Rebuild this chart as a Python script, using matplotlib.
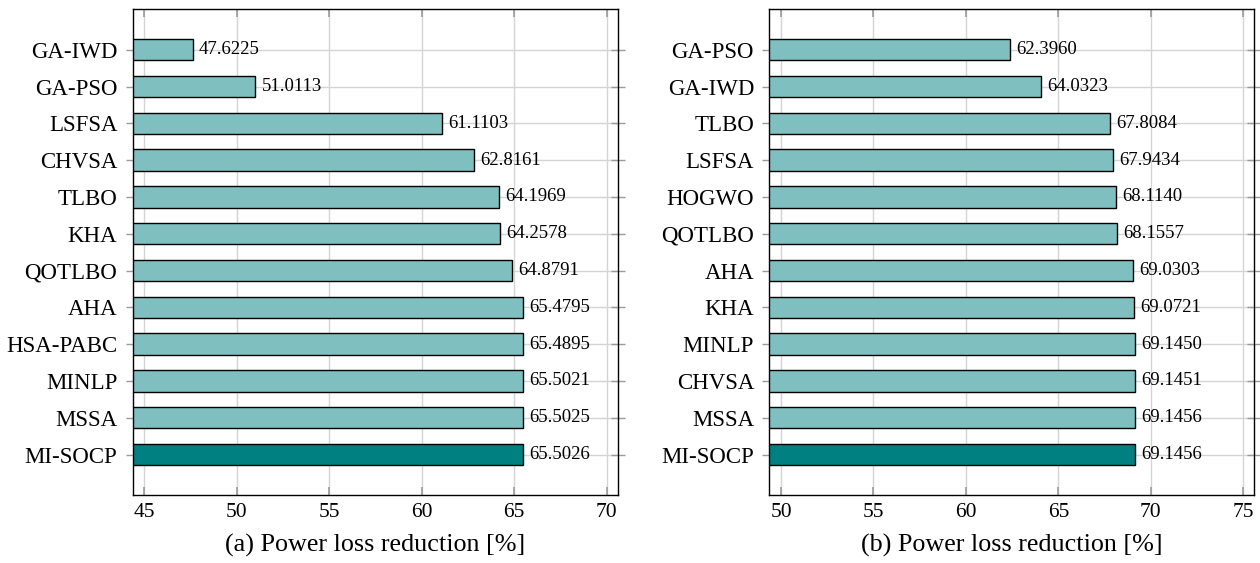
import matplotlib
matplotlib.use('Agg')
import matplotlib.pyplot as plt
import numpy as np

plt.rcParams['font.family'] = ['Liberation Serif', 'DejaVu Serif']

# (a) data, top to bottom
a_labels = ['GA-IWD', 'GA-PSO', 'LSFSA', 'CHVSA', 'TLBO', 'KHA', 'QOTLBO',
            'AHA', 'HSA-PABC', 'MINLP', 'MSSA', 'MI-SOCP']
a_values = [47.6225, 51.0113, 61.1103, 62.8161, 64.1969, 64.2578, 64.8791,
            65.4795, 65.4895, 65.5021, 65.5025, 65.5026]

# (b) data, top to bottom
b_labels = ['GA-PSO', 'GA-IWD', 'TLBO', 'LSFSA', 'HOGWO', 'QOTLBO', 'AHA',
            'KHA', 'MINLP', 'CHVSA', 'MSSA', 'MI-SOCP']
b_values = [62.3960, 64.0323, 67.8084, 67.9434, 68.1140, 68.1557, 69.0303,
            69.0721, 69.1450, 69.1451, 69.1456, 69.1456]

a_ticks = [45, 50, 55, 60, 65, 70]
b_ticks = [50, 55, 60, 65, 70, 75]

LIGHT = '#80bfbf'
DARK = '#008080'
GRID = '#d4d4d4'
TICK = '#9a9a9a'


def draw_panel(ax, labels, values, ticks, xlim, xlabel):
    y = np.arange(len(labels))
    colors = [LIGHT] * (len(labels) - 1) + [DARK]
    x0 = xlim[0]
    ax.barh(y, np.array(values) - x0, left=x0, height=0.58, color=colors,
            edgecolor='black', linewidth=1.0, zorder=3)
    for yi, v in zip(y, values):
        ax.annotate(f'{v:.4f}', xy=(v, yi), xytext=(4.5, 0),
                    textcoords='offset points', va='center', ha='left',
                    fontsize=13.5, zorder=4)
    ax.set_xlim(*xlim)
    ax.set_ylim(len(labels) - 1 + 1.1, -1.1)
    ax.set_yticks(y)
    ax.set_yticklabels(labels, fontsize=16.5)
    ax.set_xticks(ticks)
    ax.set_xticklabels([str(t) for t in ticks], fontsize=15.5)
    ax.grid(True, color=GRID, linewidth=1.0, zorder=0)
    ax.set_axisbelow(True)
    ax.tick_params(axis='x', direction='in', top=True, bottom=True,
                   length=6, width=1.2, color=TICK, pad=6)
    ax.tick_params(axis='y', direction='inout', left=True, right=True,
                   length=10, width=1.0, color=TICK, pad=6)
    for s in ax.spines.values():
        s.set_linewidth(1.0)
        s.set_color('black')
    ax.set_xlabel(xlabel, fontsize=18.8, labelpad=8)


fig = plt.figure(figsize=(12.6, 5.63), dpi=100)
ax1 = fig.add_axes([0.1053, 0.1208, 0.3854, 0.8627])
ax2 = fig.add_axes([0.6106, 0.1208, 0.3847, 0.8627])

draw_panel(ax1, a_labels, a_values, a_ticks, (44.37, 70.63),
           '(a) Power loss reduction [%]')
draw_panel(ax2, b_labels, b_values, b_ticks, (49.37, 75.58),
           '(b) Power loss reduction [%]')

fig.savefig('out.png', dpi=100, facecolor='white')
